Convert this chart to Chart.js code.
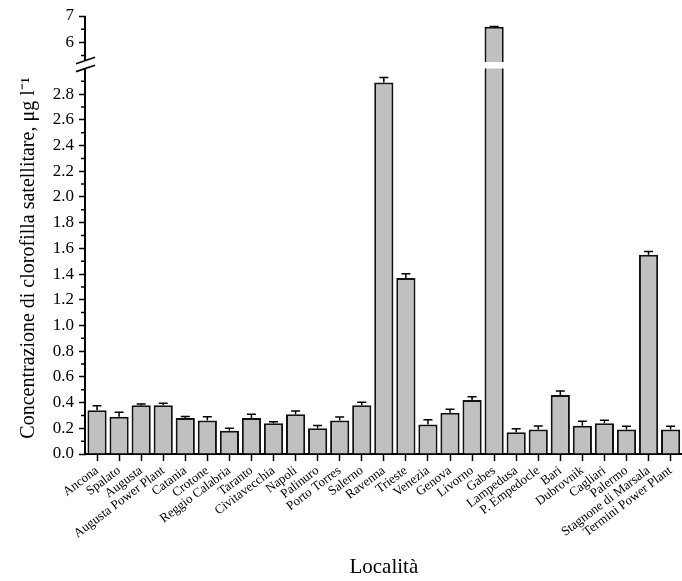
<!DOCTYPE html>
<html>
<head>
<meta charset="utf-8">
<script src="https://cdn.jsdelivr.net/npm/chart.js@4/dist/chart.umd.min.js"></script>
<style>
  html, body { margin: 0; padding: 0; background: #fff; }
  #wrap { width: 682px; height: 581px; }
</style>
</head>
<body>
<div id="wrap"><canvas id="chart" width="682" height="581"></canvas></div>
<script>
// Sampling sites
const localities = [
  'Ancona', 'Spalato', 'Augusta', 'Augusta Power Plant', 'Catania', 'Crotone',
  'Reggio Calabria', 'Taranto', 'Civitavecchia', 'Napoli', 'Palinuro', 'Porto Torres',
  'Salerno', 'Ravenna', 'Trieste', 'Venezia', 'Genova', 'Livorno', 'Gabes',
  'Lampedusa', 'P. Empedocle', 'Bari', 'Dubrovnik', 'Cagliari', 'Palermo',
  'Stagnone di Marsala', 'Termini Power Plant'
];

// Mean satellite chlorophyll concentration (µg/l)
const chlorophyll = [
  0.34, 0.29, 0.38, 0.38, 0.28, 0.26,
  0.18, 0.28, 0.24, 0.31, 0.20, 0.26,
  0.38, 2.89, 1.37, 0.23, 0.32, 0.42, 6.59,
  0.17, 0.19, 0.46, 0.22, 0.24, 0.19,
  1.55, 0.19
];

// Standard error of each mean
const chlorophyllErr = [
  0.035, 0.035, 0.010, 0.015, 0.012, 0.030,
  0.020, 0.030, 0.010, 0.025, 0.022, 0.027,
  0.022, 0.040, 0.033, 0.037, 0.028, 0.026, 0.010,
  0.027, 0.028, 0.030, 0.035, 0.023, 0.025,
  0.025, 0.025
];

// Broken value axis: lower and upper segments
const lowerRange = [0, 3.05];
const upperRange = [5.25, 7];
const lowerCut = 3.0;            // lower bars are cut here, just under the break
const lowerTicks = [0, 0.2, 0.4, 0.6, 0.8, 1.0, 1.2, 1.4, 1.6, 1.8, 2.0, 2.2, 2.4, 2.6, 2.8];
const lowerMinorTicks = [0.1, 0.3, 0.5, 0.7, 0.9, 1.1, 1.3, 1.5, 1.7, 1.9, 2.1, 2.3, 2.5, 2.7, 2.9];
const upperTicks = [6, 7];
const upperMinorTicks = [5.5, 6.5];

const FONT = 'Liberation Serif, Times New Roman, serif';

// Clips each segment's bars, adds error bars, the axis line with its break marks and minor ticks
const brokenAxis = {
  id: 'brokenAxis',
  beforeDatasetDraw(chart, args) {
    const { ctx, chartArea, scales } = chart;
    const s = scales[args.meta.yAxisID];
    const top = s.id === 'y' ? s.getPixelForValue(lowerCut) : s.top;
    ctx.save();
    ctx.beginPath();
    ctx.rect(chartArea.left, top, chartArea.right - chartArea.left, s.bottom - top);
    ctx.clip();
  },
  afterDatasetDraw(chart) {
    chart.ctx.restore();
  },
  afterDatasetsDraw(chart) {
    const { ctx, scales } = chart;
    const meta = chart.getDatasetMeta(0);
    ctx.save();
    ctx.strokeStyle = '#000';
    ctx.lineWidth = 1.5;
    chlorophyll.forEach((v, i) => {
      const s = v > upperRange[0] ? scales.y2 : scales.y;
      const x = meta.data[i].x;
      const y0 = s.getPixelForValue(v);
      const y1 = s.getPixelForValue(v + chlorophyllErr[i]);
      ctx.beginPath();
      ctx.moveTo(x, y0);
      ctx.lineTo(x, y1);
      ctx.moveTo(x - 4.5, y1);
      ctx.lineTo(x + 4.5, y1);
      ctx.stroke();
    });
    ctx.restore();
  },
  afterDraw(chart) {
    const { ctx, scales } = chart;
    const lo = scales.y, up = scales.y2;
    const ax = lo.right - 1;
    const cutY = lo.getPixelForValue(lowerCut);
    const upEnd = up.bottom - 1.5;
    ctx.save();
    ctx.strokeStyle = '#000';
    ctx.lineWidth = 2;
    ctx.beginPath();
    ctx.moveTo(ax, up.top);
    ctx.lineTo(ax, upEnd);
    ctx.moveTo(ax, cutY);
    ctx.lineTo(ax, lo.bottom + 1);
    ctx.stroke();
    // break marks
    ctx.lineWidth = 1.6;
    [upEnd, cutY].forEach(y => {
      ctx.beginPath();
      ctx.moveTo(ax - 9, y + 3.2);
      ctx.lineTo(ax + 10, y - 3.2);
      ctx.stroke();
    });
    // minor ticks
    ctx.lineWidth = 1.5;
    ctx.beginPath();
    lowerMinorTicks.forEach(v => {
      const y = lo.getPixelForValue(v);
      ctx.moveTo(ax - 4, y); ctx.lineTo(ax, y);
    });
    upperMinorTicks.forEach(v => {
      const y = up.getPixelForValue(v);
      ctx.moveTo(ax - 4, y); ctx.lineTo(ax, y);
    });
    ctx.stroke();
    ctx.restore();
  }
};

const barStyle = {
  backgroundColor: '#c0c0c0',
  borderColor: '#111',
  borderWidth: 2,
  categoryPercentage: 1,
  barPercentage: 0.87,
  grouped: false
};

const tickGrid = {
  drawOnChartArea: false,
  drawTicks: true,
  tickLength: 7,
  tickWidth: 1.5,
  tickColor: '#000'
};

new Chart(document.getElementById('chart'), {
  type: 'bar',
  data: {
    labels: localities,
    datasets: [
      Object.assign({ data: chlorophyll, yAxisID: 'y' }, barStyle),
      Object.assign({ data: chlorophyll.map(v => v > upperRange[0] ? v : null), yAxisID: 'y2' }, barStyle)
    ]
  },
  options: {
    responsive: false,
    devicePixelRatio: 1,
    animation: false,
    layout: { padding: { top: 16, right: 0, bottom: 0, left: 0 } },
    plugins: {
      legend: { display: false },
      tooltip: { enabled: false }
    },
    scales: {
      x: {
        type: 'category',
        offset: true,
        grid: Object.assign({ offset: false }, tickGrid),
        border: { display: true, color: '#000', width: 2 },
        ticks: {
          autoSkip: false,
          minRotation: 37,
          maxRotation: 37,
          padding: 2,
          color: '#000',
          font: { family: FONT, size: 13 }
        },
        title: {
          display: true,
          text: 'Località',
          color: '#000',
          font: { family: FONT, size: 21 },
          padding: { top: 0, bottom: 1 }
        },
        afterFit(s) { s.height = 127; }
      },
      y: {
        type: 'linear',
        position: 'left',
        stack: 'value',
        stackWeight: 392,
        min: lowerRange[0],
        max: lowerRange[1],
        afterBuildTicks(s) { s.ticks = lowerTicks.map(v => ({ value: v })); },
        grid: tickGrid,
        border: { display: false },
        ticks: {
          autoSkip: false,
          padding: 5,
          color: '#000',
          font: { family: FONT, size: 17 },
          callback: v => Number(v).toFixed(1)
        },
        title: {
          display: true,
          text: 'Concentrazione di clorofilla satellitare, μg l⁻¹',
          color: '#000',
          font: { family: FONT, size: 20 },
          padding: { top: 17, bottom: 0 }
        },
        afterFit(s) { s.width = 86; }
      },
      y2: {
        type: 'linear',
        position: 'left',
        stack: 'value',
        stackWeight: 46,
        min: upperRange[0],
        max: upperRange[1],
        afterBuildTicks(s) { s.ticks = upperTicks.map(v => ({ value: v })); },
        grid: tickGrid,
        border: { display: false },
        ticks: {
          autoSkip: false,
          padding: 5,
          color: '#000',
          font: { family: FONT, size: 17 },
          callback: v => String(v)
        },
        afterFit(s) { s.width = 86; }
      }
    }
  },
  plugins: [brokenAxis]
});
</script>
</body>
</html>
